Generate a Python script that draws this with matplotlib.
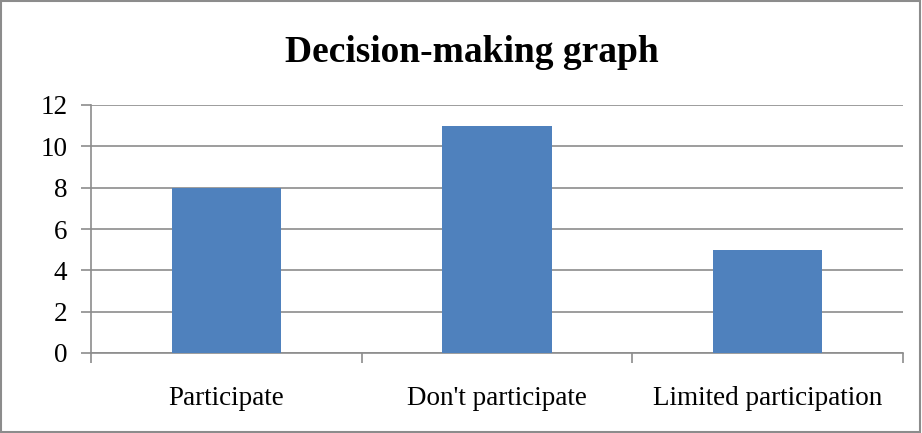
import matplotlib.pyplot as plt
from matplotlib.patches import Rectangle

categories = ['Participate', "Don't participate", 'Limited participation']
values = [8, 11, 5]
yticks = [0, 2, 4, 6, 8, 10, 12]

plt.rcParams['font.family'] = ['Liberation Serif', 'DejaVu Serif']

fig = plt.figure(figsize=(9.22, 4.33), dpi=100)
ax = fig.add_axes([91/922, 1 - 353/433, (903 - 91)/922, (353 - 105)/433])

x = list(range(len(categories)))
ax.bar(x, values, width=0.405, color='#4F81BD', zorder=3)

ax.set_xlim(-0.5, len(categories) - 0.5)
ax.set_ylim(0, 12)
ax.set_yticks(yticks)
ax.set_yticklabels([str(v) for v in yticks], fontsize=19.5)
ax.yaxis.grid(True, color='#8c8c8c', linewidth=1.2, zorder=0)

# category labels at centres, tick marks at category boundaries
ax.set_xticks([i - 0.5 for i in range(len(categories) + 1)])
ax.set_xticklabels([])
ax.set_xticks(x, minor=True)
ax.set_xticklabels(categories, minor=True, fontsize=19.5)
ax.tick_params(axis='x', which='minor', length=0, pad=24)
ax.tick_params(axis='x', which='major', length=7, width=1.2, color='#8c8c8c', direction='out')
ax.tick_params(axis='y', length=7, width=1.2, color='#8c8c8c', direction='out', pad=10)

for s in ['top', 'right']:
    ax.spines[s].set_visible(False)
for s in ['left', 'bottom']:
    ax.spines[s].set_color('#8c8c8c')
    ax.spines[s].set_linewidth(1.2)

fig.text(472/922, 1 - 52/433, 'Decision-making graph', fontsize=27, fontweight='bold',
         ha='center', va='center')

fig.patches.append(Rectangle((0.001, 0.002), 0.997, 0.995, transform=fig.transFigure,
                             fill=False, edgecolor='#8c8c8c', linewidth=1.5))

fig.savefig('out.png', dpi=100)
